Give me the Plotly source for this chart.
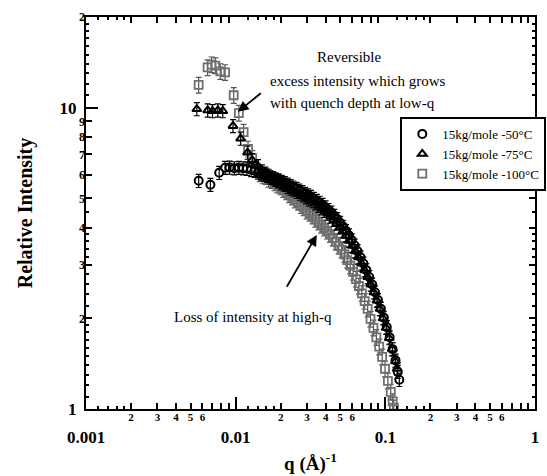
import plotly.graph_objects as go

# ---------------- data ----------------
q_m50 = [0.00566, 0.00678, 0.00776, 0.0085, 0.0091, 0.0098, 0.0105, 0.0112, 0.0119, 0.0127,
         0.0134, 0.0141, 0.0148, 0.0155, 0.0162, 0.0170, 0.0178, 0.0186, 0.0194, 0.0203,
         0.0213, 0.0223, 0.0233, 0.0243, 0.0255, 0.0266, 0.0279, 0.0291, 0.0305, 0.0319,
         0.0333, 0.0349, 0.0365, 0.0381, 0.0399, 0.0417, 0.0436, 0.0456, 0.0477, 0.0499,
         0.0522, 0.0546, 0.0571, 0.0597, 0.0624, 0.0653, 0.0683, 0.0714, 0.0747, 0.0781,
         0.0817, 0.0854, 0.0893, 0.0934, 0.0977, 0.1022, 0.1069, 0.1118, 0.1170, 0.1210, 0.124]
I_m50 = [5.72, 5.55, 6.08, 6.32, 6.33, 6.30, 6.32, 6.30, 6.28, 6.22,
         6.18, 6.10, 6.05, 6.00, 5.95, 5.88, 5.84, 5.78, 5.74, 5.68,
         5.62, 5.56, 5.50, 5.44, 5.38, 5.31, 5.25, 5.18, 5.12, 5.06,
         4.99, 4.91, 4.84, 4.76, 4.67, 4.58, 4.49, 4.38, 4.27, 4.15,
         4.03, 3.90, 3.77, 3.63, 3.49, 3.34, 3.19, 3.04, 2.89, 2.74,
         2.59, 2.44, 2.30, 2.15, 2.01, 1.87, 1.73, 1.58, 1.45, 1.33, 1.25]

q_m75 = [0.0055, 0.0065, 0.0070, 0.0076, 0.0082, 0.0096, 0.0108, 0.0120, 0.0129, 0.0141,
         0.0150, 0.0158, 0.0166, 0.0174, 0.0183, 0.0192, 0.0201, 0.0211, 0.0222, 0.0232,
         0.0244, 0.0256, 0.0268, 0.0281, 0.0295, 0.0309, 0.0324, 0.0340, 0.0357, 0.0374,
         0.0392, 0.0411, 0.0431, 0.0452, 0.0474, 0.0497, 0.0521, 0.0547, 0.0573, 0.0601,
         0.0630, 0.0661, 0.0693, 0.0727, 0.0762, 0.0799, 0.0838, 0.0879, 0.0921, 0.0966,
         0.1013, 0.1062, 0.1114, 0.1168, 0.1200]
I_m75 = [9.9, 9.8, 9.75, 9.8, 9.75, 8.7, 7.9, 7.1, 6.7, 6.4,
         6.15, 6.05, 5.95, 5.86, 5.78, 5.70, 5.62, 5.55, 5.47, 5.40,
         5.33, 5.26, 5.19, 5.12, 5.05, 4.97, 4.90, 4.82, 4.73, 4.64,
         4.55, 4.46, 4.36, 4.25, 4.13, 4.01, 3.89, 3.76, 3.62, 3.48,
         3.34, 3.19, 3.04, 2.89, 2.74, 2.59, 2.44, 2.29, 2.15, 2.00,
         1.86, 1.72, 1.58, 1.44, 1.36]

q_m100 = [0.00566, 0.00649, 0.00690, 0.00731, 0.00790, 0.00849, 0.0097, 0.0105, 0.0113, 0.0121,
          0.0129, 0.0137, 0.0145, 0.0152, 0.0159, 0.0166, 0.0174, 0.0182, 0.0190, 0.0199,
          0.0208, 0.0218, 0.0228, 0.0238, 0.0249, 0.0261, 0.0273, 0.0285, 0.0298, 0.0312,
          0.0326, 0.0341, 0.0357, 0.0373, 0.0390, 0.0408, 0.0427, 0.0446, 0.0467, 0.0488,
          0.0510, 0.0533, 0.0557, 0.0583, 0.0609, 0.0637, 0.0666, 0.0697, 0.0728, 0.0762,
          0.0796, 0.0833, 0.0871, 0.0910, 0.0952, 0.0995, 0.1040, 0.1087, 0.1120, 0.1140]
I_m100 = [11.9, 13.6, 13.9, 13.8, 13.2, 13.1, 11.0, 9.6, 8.3, 7.3,
          6.8, 6.3, 6.05, 5.95, 5.92, 5.80, 5.74, 5.64, 5.55, 5.47,
          5.36, 5.27, 5.15, 5.06, 4.95, 4.86, 4.74, 4.66, 4.55, 4.47,
          4.38, 4.27, 4.18, 4.08, 3.99, 3.90, 3.80, 3.70, 3.59, 3.48,
          3.38, 3.26, 3.12, 2.99, 2.85, 2.70, 2.56, 2.42, 2.28, 2.15,
          1.99, 1.86, 1.73, 1.61, 1.49, 1.36, 1.24, 1.14, 1.06, 1.01]

names = ["15kg/mole -50°C", "15kg/mole -75°C", "15kg/mole -100°C"]

x_major = [0.001, 0.01, 0.1, 1]
x_major_text = ["0.001", "0.01", "0.1", "1"]
x_mid = [m * d for d in (0.001, 0.01, 0.1) for m in range(2, 10)]
x_mid_text = [str(m) if m <= 6 else " " for d in (0.001, 0.01, 0.1) for m in range(2, 10)]
x_minor = [m * d for d in (0.001, 0.01, 0.1) for m in (1.2, 1.4, 1.6, 1.8)]

y_major = [1, 10]
y_major_text = ["1", "10"]
y_mid = [2, 3, 4, 5, 6, 7, 8, 9, 20]
y_mid_text = ["2", "3", "4", "5", "6", "7", "8", "9", "2"]
y_minor = [1.1, 1.2, 1.3, 1.4, 1.5, 1.6, 1.7, 1.8, 1.9, 2.2, 2.4, 2.6, 2.8, 3.2, 3.4, 3.6, 3.8,
           4.5, 11, 12, 13, 14, 15, 16, 17, 18, 19]

SERIF = "Liberation Serif"

fig = go.Figure()

# -100 C (grey squares) drawn first, underneath
fig.add_trace(go.Scatter(
    x=q_m100, y=I_m100, mode="markers", name=names[2], legendrank=3,
    marker=dict(symbol="square-open", size=8, color="#6f6f6f", line=dict(width=1.8)),
    error_y=dict(type="percent", value=6, color="#555555", thickness=1.2, width=3),
))
# -50 C (circles)
fig.add_trace(go.Scatter(
    x=q_m50, y=I_m50, mode="markers", name=names[0], legendrank=1,
    marker=dict(symbol="circle-open", size=8, color="black", line=dict(width=2)),
    error_y=dict(type="percent", value=5, color="black", thickness=1.2, width=3),
))
# -75 C (triangles) on overlaid axes carrying the secondary ticks
fig.add_trace(go.Scatter(
    x=q_m75, y=I_m75, mode="markers", name=names[1], legendrank=2,
    xaxis="x2", yaxis="y2",
    marker=dict(symbol="triangle-up-open", size=8, color="black", line=dict(width=2)),
    error_y=dict(type="percent", value=5, color="black", thickness=1.2, width=3),
))

bold_big = dict(family=SERIF, size=17, color="black", weight="bold")
bold_small = dict(family=SERIF, size=12, color="black", weight="bold")

fig.update_layout(
    width=547, height=476,
    margin=dict(l=86, r=1, t=17, b=67),
    paper_bgcolor="white", plot_bgcolor="white",
    font=dict(family=SERIF, color="black"),
    showlegend=True,
    legend=dict(x=0.70, y=0.745, xanchor="left", yanchor="top",
                bgcolor="white", bordercolor="black", borderwidth=2,
                font=dict(family=SERIF, size=13, color="black"),
                tracegroupgap=0, itemsizing="trace", itemwidth=30),
    xaxis=dict(type="log", range=[-3, 0], showgrid=False, zeroline=False,
               showline=True, linecolor="black", linewidth=2, mirror=True,
               ticks="inside", ticklen=12, tickwidth=2, tickcolor="black",
               tickmode="array", tickvals=x_major, ticktext=x_major_text,
               tickfont=bold_big, ticklabelstandoff=12,
               title=dict(text="<b>q (Å)<sup>-1</sup></b>", font=dict(family=SERIF, size=19),
                          standoff=10)),
    xaxis2=dict(type="log", range=[-3, 0], overlaying="x", side="bottom", anchor="y",
                showgrid=False, zeroline=False, showline=False, mirror="ticks",
                ticks="inside", ticklen=6, tickwidth=1.5, tickcolor="black",
                tickmode="array", tickvals=x_mid, ticktext=x_mid_text,
                tickfont=dict(family=SERIF, size=11, color="black", weight="bold"),
                ticklabelstandoff=0,
                minor=dict(tickmode="array", tickvals=x_minor, ticks="inside",
                           ticklen=3, tickwidth=1.5, tickcolor="black")),
    yaxis=dict(type="log", range=[0, 1.30103], showgrid=False, zeroline=False,
               showline=True, linecolor="black", linewidth=2, mirror=True,
               ticks="inside", ticklen=12, tickwidth=2, tickcolor="black",
               tickmode="array", tickvals=y_major, ticktext=y_major_text,
               tickfont=bold_big, ticklabelstandoff=4,
               title=dict(text="<b>Relative Intensity</b>", font=dict(family=SERIF, size=20),
                          standoff=22)),
    yaxis2=dict(type="log", range=[0, 1.30103], overlaying="y", side="left", anchor="x",
                showgrid=False, zeroline=False, showline=False, mirror="ticks",
                ticks="inside", ticklen=6, tickwidth=1.5, tickcolor="black",
                tickmode="array", tickvals=y_mid, ticktext=y_mid_text,
                tickfont=bold_small, ticklabelstandoff=0,
                minor=dict(tickmode="array", tickvals=y_minor, ticks="inside",
                           ticklen=3, tickwidth=1.5, tickcolor="black")),
)

ann_font = dict(family=SERIF, size=15, color="black")
fig.add_annotation(xref="paper", yref="paper", x=0.586, y=0.923, text="Reversible",
                   showarrow=False, font=ann_font)
fig.add_annotation(xref="paper", yref="paper", x=0.605, y=0.862,
                   text="excess intensity which grows", showarrow=False, font=ann_font)
fig.add_annotation(xref="paper", yref="paper", x=0.594, y=0.806,
                   text="with quench depth at low-q", showarrow=False, font=ann_font)
fig.add_annotation(xref="paper", yref="paper", x=0.373, y=0.209,
                   text="Loss of intensity at high-q", showarrow=False, font=ann_font)
# arrows (head position in paper coords, tail offset in px)
fig.add_annotation(xref="paper", yref="paper", x=0.338, y=0.758, ax=26, ay=-21,
                   text=" ", showarrow=True, arrowhead=2, arrowsize=1.2, arrowwidth=1.8,
                   arrowcolor="black")
fig.add_annotation(xref="paper", yref="paper", x=0.514, y=0.444, ax=-33, ay=57,
                   text=" ", showarrow=True, arrowhead=2, arrowsize=1.2, arrowwidth=1.8,
                   arrowcolor="black")

fig.write_html("out.html", config={"displayModeBar": False},
               post_script="document.body.style.margin='0';")
